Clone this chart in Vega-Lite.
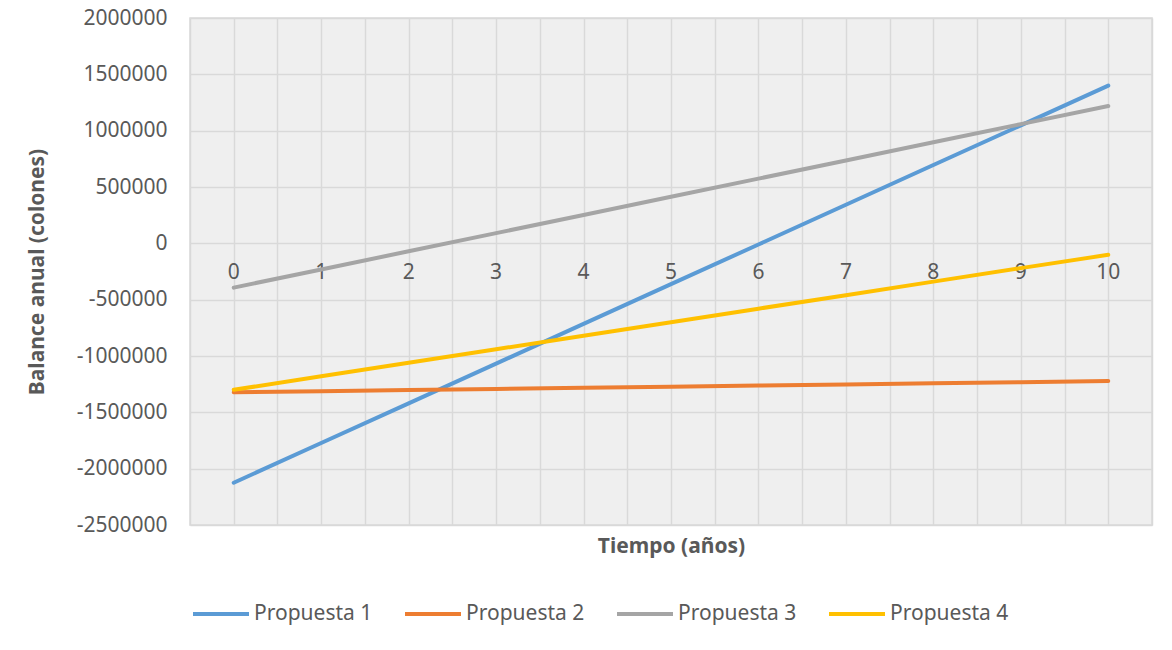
{
  "$schema": "https://vega.github.io/schema/vega-lite/v6.json",
  "width": 962,
  "height": 507,
  "autosize": {"type": "none"},
  "padding": {"left": 190, "top": 18, "right": 20, "bottom": 125},
  "background": "white",
  "config": {
    "font": "Noto Sans",
    "view": {"fill": "#efefef", "stroke": "#d9d9d9", "strokeWidth": 1.5},
    "axis": {
      "labelColor": "#595959",
      "titleColor": "#595959",
      "labelFont": "Noto Sans",
      "titleFont": "Noto Sans",
      "labelFontSize": 21,
      "titleFontSize": 21,
      "titleFontWeight": "bold",
      "gridColor": "#d9d9d9",
      "gridWidth": 1.5,
      "gridOpacity": 1,
      "domain": false,
      "ticks": false
    }
  },
  "datasets": {
    "d": [
      {"year": 0, "serie": "Propuesta 1", "balance": -2125000},
      {"year": 1, "serie": "Propuesta 1", "balance": -1772500},
      {"year": 2, "serie": "Propuesta 1", "balance": -1420000},
      {"year": 3, "serie": "Propuesta 1", "balance": -1067500},
      {"year": 4, "serie": "Propuesta 1", "balance": -715000},
      {"year": 5, "serie": "Propuesta 1", "balance": -362500},
      {"year": 6, "serie": "Propuesta 1", "balance": -10000},
      {"year": 7, "serie": "Propuesta 1", "balance": 342500},
      {"year": 8, "serie": "Propuesta 1", "balance": 695000},
      {"year": 9, "serie": "Propuesta 1", "balance": 1047500},
      {"year": 10, "serie": "Propuesta 1", "balance": 1400000},
      {"year": 0, "serie": "Propuesta 2", "balance": -1322000},
      {"year": 1, "serie": "Propuesta 2", "balance": -1312000},
      {"year": 2, "serie": "Propuesta 2", "balance": -1302000},
      {"year": 3, "serie": "Propuesta 2", "balance": -1292000},
      {"year": 4, "serie": "Propuesta 2", "balance": -1282000},
      {"year": 5, "serie": "Propuesta 2", "balance": -1272000},
      {"year": 6, "serie": "Propuesta 2", "balance": -1262000},
      {"year": 7, "serie": "Propuesta 2", "balance": -1252000},
      {"year": 8, "serie": "Propuesta 2", "balance": -1242000},
      {"year": 9, "serie": "Propuesta 2", "balance": -1232000},
      {"year": 10, "serie": "Propuesta 2", "balance": -1222000},
      {"year": 0, "serie": "Propuesta 3", "balance": -393000},
      {"year": 1, "serie": "Propuesta 3", "balance": -231800},
      {"year": 2, "serie": "Propuesta 3", "balance": -70600},
      {"year": 3, "serie": "Propuesta 3", "balance": 90600},
      {"year": 4, "serie": "Propuesta 3", "balance": 251800},
      {"year": 5, "serie": "Propuesta 3", "balance": 413000},
      {"year": 6, "serie": "Propuesta 3", "balance": 574200},
      {"year": 7, "serie": "Propuesta 3", "balance": 735400},
      {"year": 8, "serie": "Propuesta 3", "balance": 896600},
      {"year": 9, "serie": "Propuesta 3", "balance": 1057800},
      {"year": 10, "serie": "Propuesta 3", "balance": 1219000},
      {"year": 0, "serie": "Propuesta 4", "balance": -1300000},
      {"year": 1, "serie": "Propuesta 4", "balance": -1180000},
      {"year": 2, "serie": "Propuesta 4", "balance": -1060000},
      {"year": 3, "serie": "Propuesta 4", "balance": -940000},
      {"year": 4, "serie": "Propuesta 4", "balance": -820000},
      {"year": 5, "serie": "Propuesta 4", "balance": -700000},
      {"year": 6, "serie": "Propuesta 4", "balance": -580000},
      {"year": 7, "serie": "Propuesta 4", "balance": -460000},
      {"year": 8, "serie": "Propuesta 4", "balance": -340000},
      {"year": 9, "serie": "Propuesta 4", "balance": -220000},
      {"year": 10, "serie": "Propuesta 4", "balance": -102000}
    ]
  },
  "data": {"name": "d"},
  "layer": [
    {
      "transform": [{"filter": "datum.serie === 'Propuesta 1'"}],
      "mark": {"type": "text", "baseline": "top", "align": "center", "dy": 19, "fontSize": 21, "color": "#595959", "font": "Noto Sans"},
      "encoding": {
        "x": {"field": "year", "type": "quantitative", "scale": {"domain": [-0.5, 10.5], "nice": false, "zero": false}},
        "y": {"datum": 0, "type": "quantitative"},
        "text": {"field": "year", "type": "quantitative"}
      }
    },
    {
      "mark": {"type": "line", "strokeWidth": 4, "strokeCap": "round", "strokeJoin": "round"},
      "encoding": {
        "x": {
          "field": "year",
          "type": "quantitative",
          "scale": {"domain": [-0.5, 10.5], "nice": false, "zero": false},
          "axis": {
            "values": [-0.5, 0, 0.5, 1, 1.5, 2, 2.5, 3, 3.5, 4, 4.5, 5, 5.5, 6, 6.5, 7, 7.5, 8, 8.5, 9, 9.5, 10, 10.5],
            "labels": false,
            "title": "Tiempo (años)",
            "titlePadding": 10,
            "grid": true
          }
        },
        "y": {
          "field": "balance",
          "type": "quantitative",
          "scale": {"domain": [-2500000, 2000000], "nice": false, "zero": false},
          "axis": {
            "values": [-2500000, -2000000, -1500000, -1000000, -500000, 0, 500000, 1000000, 1500000, 2000000],
            "labelExpr": "datum.value < 0 ? '-' + abs(datum.value) : '' + datum.value",
            "labelPadding": 23,
            "title": "Balance anual (colones)",
            "titlePadding": 29,
            "grid": true
          }
        },
        "color": {
          "field": "serie",
          "type": "nominal",
          "scale": {
            "domain": ["Propuesta 1", "Propuesta 2", "Propuesta 3", "Propuesta 4"],
            "range": ["#5b9bd5", "#ed7d31", "#a5a5a5", "#ffc000"]
          },
          "legend": {
            "orient": "none",
            "legendX": 1,
            "legendY": 566,
            "direction": "horizontal",
            "title": null,
            "symbolType": "stroke",
            "symbolSize": 3136,
            "symbolStrokeWidth": 4,
            "labelFont": "Noto Sans",
            "labelFontSize": 21,
            "labelColor": "#595959",
            "labelOffset": 3,
            "columnPadding": 24
          }
        }
      }
    }
  ]
}
